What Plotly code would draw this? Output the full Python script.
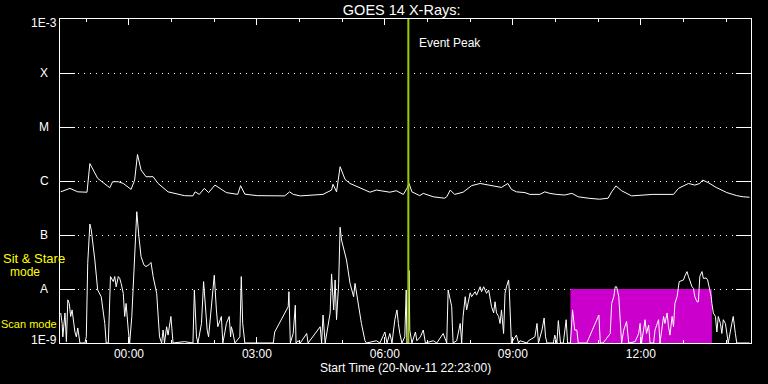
import numpy as np
import pandas as pd
import plotly.graph_objects as go

start_time = "2011-11-20 22:23:00"
end_minutes = 972

# GOES long channel (1-8 A): minutes after start, flux W/m^2
long_min = [1, 14, 25, 38, 42, 53, 70, 74, 82, 89, 100, 105, 109, 114, 121, 131, 138, 152, 175, 187,
            190, 196, 203, 209, 218, 234, 250, 254, 260, 278, 316, 323, 328, 338, 370, 382, 384, 389,
            394, 401, 408, 422, 436, 445, 464, 473, 483, 488, 491, 495, 506, 511, 525, 541, 544, 549,
            555, 567, 579, 591, 605, 621, 630, 635, 642, 654, 661, 675, 682, 689, 698, 710, 720, 729,
            743, 759, 771, 776, 782, 790, 804, 820, 834, 863, 870, 884, 893, 900, 904, 912, 923, 938,
            952, 961, 970]
long_flux = [6.3e-7, 7.3e-7, 6.3e-7, 6.2e-7, 2.1e-6, 1.12e-6, 7.5e-7, 9.7e-7, 9.7e-7, 9.0e-7, 7.0e-7,
             1.04e-6, 3.1e-6, 1.6e-6, 1.2e-6, 1.2e-6, 9.0e-7, 6.3e-7, 5.35e-7, 5.3e-7, 6.3e-7, 5.65e-7,
             7.3e-7, 6.1e-7, 8.4e-7, 6.1e-7, 5.65e-7, 8.2e-7, 5.7e-7, 5.35e-7, 5.3e-7, 6.3e-7, 5.65e-7,
             5.3e-7, 5.65e-7, 6.8e-7, 8.7e-7, 6.3e-7, 1.84e-6, 1.07e-6, 9.0e-7, 7.6e-7, 6.2e-7, 6.8e-7,
             6.2e-7, 6.6e-7, 5.65e-7, 7.3e-7, 9.0e-7, 6.3e-7, 5.35e-7, 5.9e-7, 5.1e-7, 4.8e-7, 5.1e-7,
             6.8e-7, 5.65e-7, 6.2e-7, 8.2e-7, 9.0e-7, 8.2e-7, 7.6e-7, 9.0e-7, 7.0e-7, 6.3e-7, 6.1e-7,
             5.65e-7, 5.65e-7, 6.3e-7, 5.9e-7, 5.65e-7, 5.5e-7, 5.9e-7, 5.1e-7, 4.8e-7, 4.6e-7, 4.8e-7,
             6.3e-7, 8.1e-7, 6.6e-7, 5.3e-7, 5.5e-7, 5.65e-7, 5.65e-7, 7.3e-7, 9.0e-7, 8.4e-7, 9.0e-7,
             1.04e-6, 9.3e-7, 7.6e-7, 6.1e-7, 5.35e-7, 5.1e-7, 5.0e-7]

# GOES short channel (0.5-4 A)
short_min = [1, 3, 4, 7, 9, 11, 13, 15, 17, 19, 21, 23, 25, 28, 35, 37, 39, 42, 44, 49, 53, 58, 63, 65,
             68, 71, 75, 77, 79, 82, 84, 86, 89, 91, 93, 96, 98, 101, 105, 108, 111, 114, 118, 121, 125,
             128, 131, 136, 140, 143, 145, 147, 150, 152, 156, 159, 175, 187, 189, 192, 194, 199, 202,
             204, 207, 209, 212, 214, 217, 220, 222, 227, 229, 232, 234, 238, 240, 241, 243, 246, 253,
             255, 257, 260, 300, 302, 321, 322, 324, 328, 331, 332, 335, 338, 347, 349, 366, 368, 370,
             373, 378, 380, 382, 385, 387, 389, 392, 394, 396, 399, 403, 408, 413, 415, 417, 422, 424,
             429, 431, 445, 450, 457, 460, 464, 467, 471, 474, 476, 478, 481, 485, 487, 488, 490, 491,
             492, 495, 500, 502, 507, 511, 514, 525, 530, 539, 544, 546, 549, 551, 552, 553, 558, 563,
             565, 567, 570, 572, 577, 579, 584, 586, 591, 593, 596, 600, 603, 605, 607, 610, 612, 614,
             617, 619, 621, 624, 626, 628, 631, 632, 634, 635, 642, 645, 647, 657, 659, 668, 671, 673,
             678, 681, 683, 685, 694, 696, 699, 701, 704, 708, 712, 714, 718, 721, 724, 727, 729, 741,
             758, 760, 764, 774, 776, 779, 781, 783, 786, 788, 790, 793, 797, 800, 809, 814, 816, 818,
             823, 825, 828, 830, 835, 837, 842, 844, 849, 851, 854, 856, 858, 861, 863, 865, 868, 871,
             875, 877, 879, 882, 884, 886, 889, 891, 893, 896, 898, 900, 903, 905, 909, 911, 914, 916,
             917, 919, 922, 924, 926, 929, 931, 933, 936, 940, 945, 947, 950, 952, 957, 970]
short_flux = [3.6e-9, 2.3e-9, 1.3e-9, 3.6e-9, 1.06e-9, 6.3e-9, 5.4e-9, 3.1e-9, 4.1e-9, 2.3e-9, 1.6e-9,
              1.3e-9, 1.9e-9, 1e-9, 1e-9, 1.3e-9, 3.0e-8, 1.6e-7, 1.24e-7, 3.45e-8, 9.6e-9, 7.2e-9,
              2.3e-9, 1e-9, 1e-9, 1.7e-8, 1.37e-8, 1.7e-8, 1.1e-8, 1.7e-8, 1.57e-8, 1.27e-8, 8.3e-9,
              3.1e-9, 5.4e-9, 1.74e-9, 1e-9, 3.1e-9, 5.3e-8, 2.7e-7, 9.3e-8, 4.0e-8, 2.8e-8, 2.6e-8,
              2.8e-8, 3.1e-8, 1.7e-8, 8.3e-9, 1.3e-9, 1e-9, 1.74e-9, 1e-9, 2.0e-9, 1.4e-9, 3.1e-9, 1e-9,
              1.06e-9, 1e-9, 9.6e-9, 1.3e-9, 1e-9, 2.3e-9, 1.37e-8, 6.3e-9, 1.74e-9, 1.3e-9, 3.1e-9,
              7.2e-9, 1.8e-8, 4.1e-9, 2.0e-9, 3.1e-9, 1e-9, 1.6e-9, 2.3e-9, 3.1e-9, 1.3e-9, 2.0e-9,
              1.6e-9, 1e-9, 1.3e-9, 1.7e-8, 2.3e-9, 1e-9, 1e-9, 1.6e-9, 4.7e-9, 8.9e-9, 1e-9, 1.5e-9,
              5.0e-9, 1e-9, 1.1e-9, 1e-9, 1.5e-9, 1e-9, 2.0e-9, 1e-9, 3.3e-9, 1e-9, 2.7e-9, 3.6e-9,
              1.9e-8, 4.1e-9, 1.47e-8, 2.7e-9, 1.27e-8, 1.39e-7, 8.1e-8, 5.3e-8, 3.45e-8, 1.27e-8,
              7.2e-9, 1.27e-8, 8.3e-9, 3.1e-9, 2.3e-9, 1.1e-9, 1e-9, 1.1e-9, 1e-9, 1.6e-9, 1e-9, 1.5e-9,
              1e-9, 2.7e-9, 4.1e-9, 2.3e-9, 1.5e-9, 1e-9, 1.3e-9, 9.6e-9, 1e-9, 1e-9, 2.2e-8, 1.74e-9,
              1e-9, 1.6e-9, 1.1e-9, 1.3e-9, 1.74e-9, 1e-9, 1.1e-9, 1e-9, 1.5e-9, 1e-9, 9.6e-9, 6.3e-9,
              4.7e-9, 2.0e-9, 1e-9, 1.1e-9, 2.3e-9, 1e-9, 3.1e-9, 7.2e-9, 4.1e-9, 8.5e-9, 7.2e-9,
              8.9e-9, 7.7e-9, 1.1e-8, 8.9e-9, 1.1e-8, 8.3e-9, 9.6e-9, 7.2e-9, 4.7e-9, 3.6e-9, 5.8e-9,
              3.6e-9, 3.1e-9, 2.3e-9, 4.1e-9, 1.5e-9, 8.3e-9, 1.1e-8, 1.47e-8, 9.6e-9, 1.5e-9, 1e-9,
              1.4e-9, 1e-9, 1.1e-9, 1e-9, 1.1e-9, 1.3e-9, 2.3e-9, 1e-9, 1.74e-9, 2.9e-9, 1.3e-9, 1e-9,
              1e-9, 1.4e-9, 1e-9, 2.6e-9, 1e-9, 1e-9, 2.7e-9, 1e-9, 1e-9, 4.1e-9, 1.74e-9, 1.74e-9,
              1e-9, 1e-9, 3.3e-9, 1e-9, 1e-9, 1.5e-9, 5.4e-9, 7.2e-9, 1.1e-8, 1.1e-8, 7.2e-9, 2.3e-9,
              1e-9, 1.74e-9, 2.5e-9, 1e-9, 1.06e-9, 1.5e-9, 2.3e-9, 1e-9, 2.7e-9, 1.5e-9, 2.15e-9, 1e-9,
              1e-9, 1.74e-9, 2.7e-9, 1e-9, 3.1e-9, 2.3e-9, 3.6e-9, 2.0e-9, 1.4e-9, 3.1e-9, 2.0e-9,
              5.4e-9, 7.2e-9, 1.37e-8, 1.47e-8, 1.47e-8, 1.74e-8, 2.1e-8, 1.7e-8, 1.37e-8, 1.1e-8,
              1.03e-8, 7.2e-9, 5.8e-9, 5.8e-9, 1.7e-8, 2.1e-8, 1.57e-8, 1.6e-8, 1.47e-8, 9.8e-9, 7.2e-9,
              5.4e-9, 3.6e-9, 3.1e-9, 1.6e-9, 3.1e-9, 2.3e-9, 1.5e-9, 2.7e-9, 2.3e-9, 1e-9, 2.3e-9,
              3.1e-9, 1.5e-9, 1e-9, 1e-9, 1e-9]

event_peak = "2011-11-21 06:33:00"
sit_stare_start = "2011-11-21 10:21:00"
sit_stare_end = "2011-11-21 13:40:00"

ytick_vals = [1e-9, 1e-8, 1e-7, 1e-6, 1e-5, 1e-4, 1e-3]
ytick_text = ["1E-9", "A", "B", "C", "M", "X", "1E-3"]

t0 = pd.Timestamp(start_time)
long_t = t0 + pd.to_timedelta(long_min, unit="m")
short_t = t0 + pd.to_timedelta(short_min, unit="m")
t_end = t0 + pd.Timedelta(minutes=end_minutes)

FONT = "Liberation Sans"
fig = go.Figure()

# Sit & Stare mode interval (magenta box)
fig.add_trace(go.Scatter(
    x=[sit_stare_start, sit_stare_end, sit_stare_end, sit_stare_start, sit_stare_start],
    y=[1e-9, 1e-9, 1e-8, 1e-8, 1e-9],
    fill="toself", fillcolor="#cc00cc", line=dict(width=0), mode="lines",
    hoverinfo="skip", showlegend=False))

fig.add_trace(go.Scatter(x=long_t, y=long_flux, mode="lines",
                         line=dict(color="white", width=1), showlegend=False))
fig.add_trace(go.Scatter(x=short_t, y=short_flux, mode="lines",
                         line=dict(color="white", width=1), showlegend=False))

fig.add_shape(type="line", xref="x", yref="paper", x0=event_peak, x1=event_peak, y0=0, y1=1,
              line=dict(color="#99cc00", width=2), layer="above")

annotations = []
for v, t in zip(ytick_vals, ytick_text):
    shift = 0
    if t == "1E-3":
        shift = -4
    elif t == "1E-9":
        shift = 3
    annotations.append(dict(x=0, xref="paper", y=np.log10(v), yref="y", text=t, showarrow=False,
                            xanchor="center", yanchor="middle", xshift=-16, yshift=shift,
                            font=dict(color="white", size=12, family=FONT)))
annotations += [
    dict(x=event_peak, xref="x", y=1, yref="paper", yshift=-24, xshift=9, text="Event Peak",
         showarrow=False, xanchor="left", yanchor="middle",
         font=dict(color="white", size=12, family=FONT)),
    dict(x=0, xref="paper", y=0.262, yref="paper", xshift=-26, text="Sit & Stare", showarrow=False,
         xanchor="center", yanchor="middle", font=dict(color="yellow", size=13, family=FONT)),
    dict(x=0, xref="paper", y=0.219, yref="paper", xshift=-35.5, text="mode", showarrow=False,
         xanchor="center", yanchor="middle", font=dict(color="yellow", size=12, family=FONT)),
    dict(x=0, xref="paper", y=0.0586, yref="paper", xshift=-31, text="Scan mode", showarrow=False,
         xanchor="center", yanchor="middle", font=dict(color="yellow", size=11, family=FONT)),
    dict(x=0.5, xref="paper", y=0, yref="paper", yshift=-25, text="Start Time (20-Nov-11 22:23:00)",
         showarrow=False, xanchor="center", yanchor="middle",
         font=dict(color="white", size=12, family=FONT)),
]

fig.update_layout(
    width=768, height=384,
    margin=dict(l=60, r=17, t=19, b=41),
    paper_bgcolor="black", plot_bgcolor="black",
    title=dict(text="GOES 14 X-Rays:", x=0.523, xref="container", xanchor="center",
               y=1 - 9.5 / 384, yref="container", yanchor="middle",
               font=dict(color="white", size=14.5, family=FONT)),
    annotations=annotations,
    showlegend=False,
    font=dict(family=FONT, color="white", size=12),
)

fig.update_xaxes(
    type="date", range=[t0, t_end],
    tick0="2011-11-21 00:00:00", dtick=3 * 3600 * 1000, tickformat="%H:%M",
    ticks="inside", ticklen=6, tickcolor="white", tickwidth=1,
    showline=True, linecolor="white", linewidth=1, mirror="ticks",
    showgrid=False, zeroline=False,
    tickfont=dict(color="white", size=12, family=FONT),
    minor=dict(dtick=3600 * 1000, ticks="inside", ticklen=3, tickcolor="white", showgrid=False),
)
fig.update_yaxes(
    type="log", range=[-9, -3],
    tickvals=ytick_vals, showticklabels=False,
    ticks="inside", ticklen=15, tickcolor="white", tickwidth=1,
    showline=True, linecolor="white", linewidth=1, mirror="ticks",
    showgrid=True, gridcolor="white", gridwidth=1, griddash="1px,5px",
    zeroline=False,
)

fig.write_html("out.html")
